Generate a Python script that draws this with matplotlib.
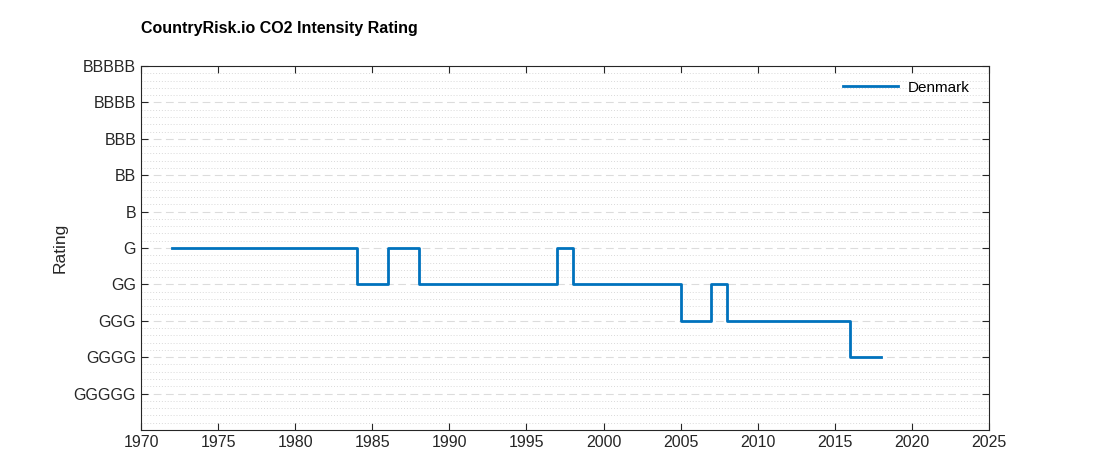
import numpy as np
import matplotlib.pyplot as plt
from matplotlib.ticker import MultipleLocator

plt.rcParams['font.family'] = ['Liberation Sans', 'DejaVu Sans']

# rating levels, 1 = GGGGG ... 10 = BBBBB
rating_labels = ['GGGGG', 'GGGG', 'GGG', 'GG', 'G', 'B', 'BB', 'BBB', 'BBBB', 'BBBBB']
rating_values = [1, 2, 3, 4, 5, 6, 7, 8, 9, 10]

years = list(range(1972, 2019))
denmark = ([5] * 12 +          # 1972-1983
           [4] * 2 +           # 1984-1985
           [5] * 2 +           # 1986-1987
           [4] * 9 +           # 1988-1996
           [5] * 1 +           # 1997
           [4] * 7 +           # 1998-2004
           [3] * 2 +           # 2005-2006
           [4] * 1 +           # 2007
           [3] * 8 +           # 2008-2015
           [2] * 3)            # 2016-2018

fig = plt.figure(figsize=(10.94, 4.69), dpi=100)
ax = fig.add_axes([141 / 1094, 1 - 430 / 469, (989 - 141) / 1094, (430 - 66) / 469])

ax.step(years, denmark, where='post', color='#0072BD', linewidth=2, label='Denmark')

ax.set_xlim(1970, 2025)
ax.set_ylim(0, 10)
ax.set_xticks(np.arange(1970, 2026, 5))
ax.set_yticks(rating_values)
ax.set_yticklabels(rating_labels)
ax.yaxis.set_minor_locator(MultipleLocator(0.2))

ax.grid(True, which='major', axis='y', linestyle=(0, (7, 4)), color='#dcdcdc', linewidth=0.8)
ax.grid(True, which='minor', axis='y', linestyle=(0, (1, 2)), color='#d9d9d9', linewidth=0.7)
ax.set_axisbelow(True)

ax.tick_params(which='major', direction='in', top=True, right=True, length=5,
               labelsize=11.5, colors='#262626', width=0.8)
ax.tick_params(which='minor', left=False, right=False)
for s in ax.spines.values():
    s.set_color('#262626')
    s.set_linewidth(0.8)

ax.set_ylabel('Rating', fontsize=12.5, color='#262626', labelpad=4)
ax.set_title('CountryRisk.io CO2 Intensity Rating', fontsize=11.5, fontweight='bold',
             loc='left', pad=24)

ax.legend(loc='upper right', bbox_to_anchor=(1.0, 1.014), frameon=False, fontsize=11,
          handlelength=3.6, handletextpad=0.6, borderaxespad=0.9)

fig.savefig('out.png', dpi=100)
